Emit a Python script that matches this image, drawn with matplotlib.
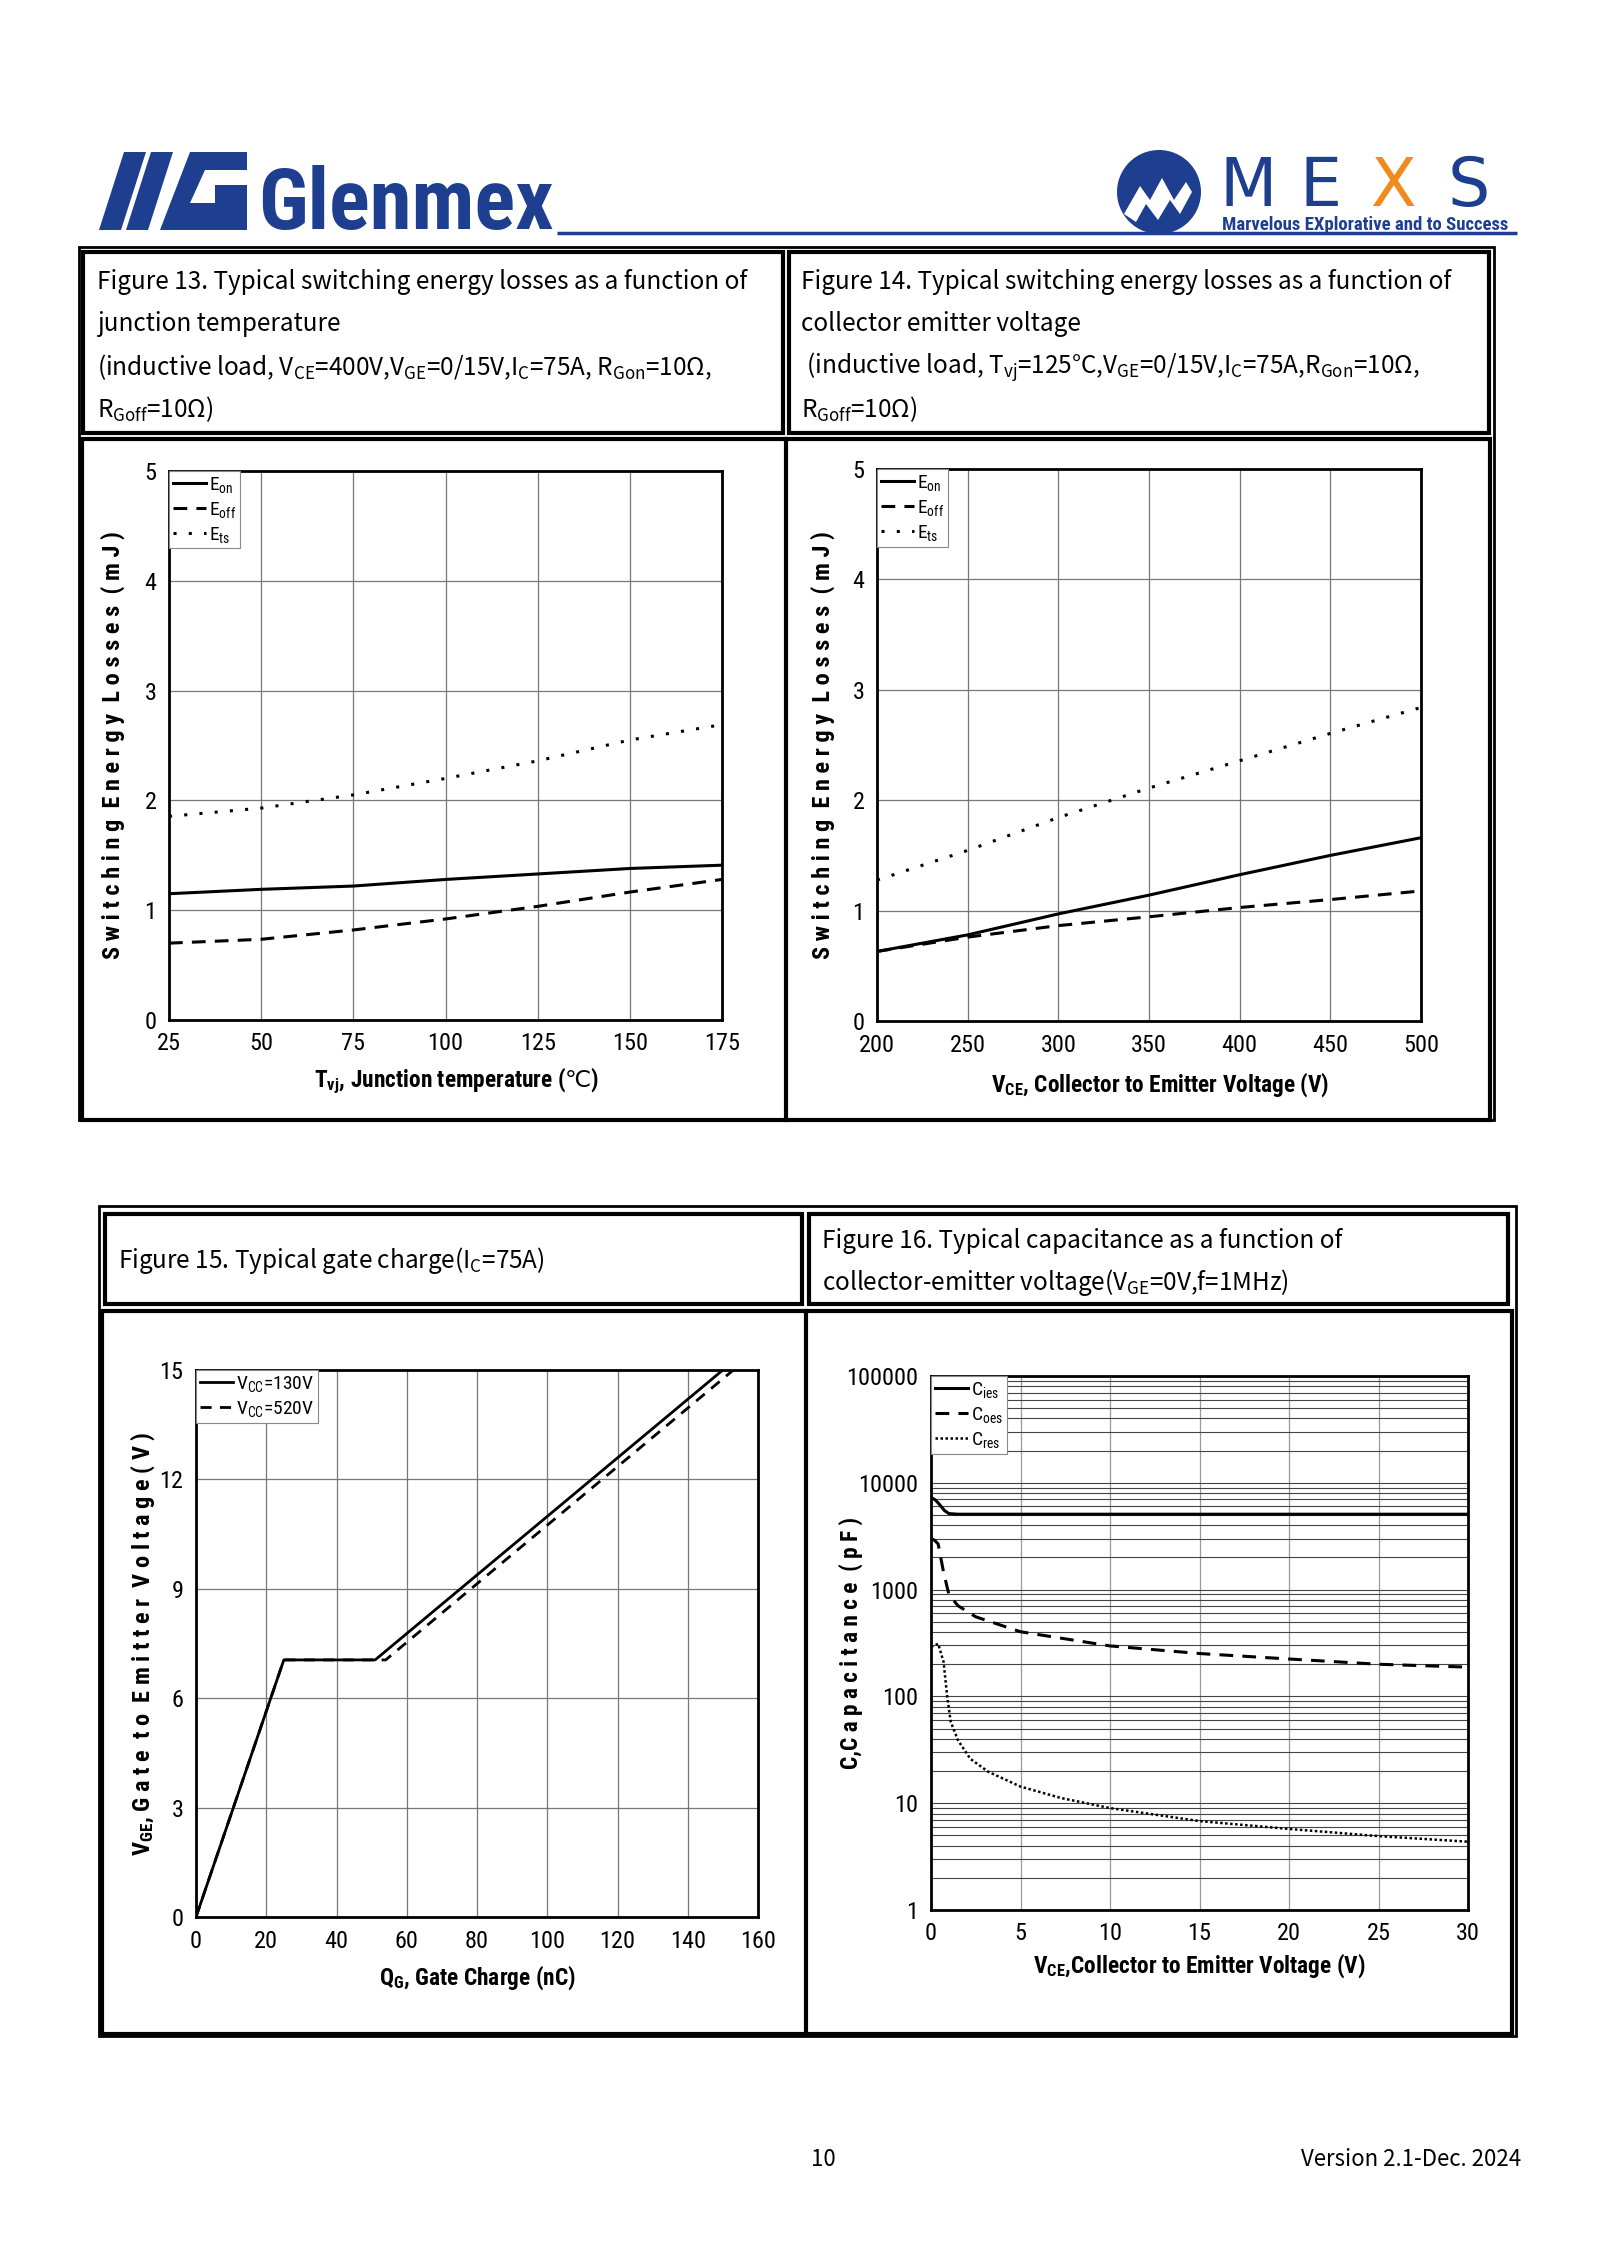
import matplotlib
matplotlib.use("Agg")
import matplotlib.pyplot as plt
from matplotlib.patches import Rectangle, Circle, Polygon
import numpy as np

# ---- data ----
# Figure 13: switching losses vs junction temperature
tvj = [25, 50, 75, 100, 125, 150, 175]
eon_t = [1.15, 1.19, 1.22, 1.28, 1.33, 1.38, 1.41]
eoff_t = [0.70, 0.735, 0.82, 0.92, 1.035, 1.165, 1.28]
ets_t = [1.855, 1.93, 2.05, 2.20, 2.36, 2.55, 2.69]

# Figure 14: switching losses vs collector emitter voltage
vce = [200, 250, 300, 350, 400, 450, 500]
eon_v = [0.63, 0.78, 0.97, 1.14, 1.325, 1.50, 1.66]
eoff_v = [0.63, 0.76, 0.864, 0.944, 1.028, 1.10, 1.178]
ets_v = [1.276, 1.545, 1.843, 2.11, 2.357, 2.605, 2.84]

# Figure 15: gate charge
qg_130 = [0, 25, 51, 150]
vge_130 = [0, 7.05, 7.05, 15]
qg_520 = [0, 25, 54, 153]
vge_520 = [0, 7.05, 7.05, 15]

# Figure 16: capacitance vs VCE
v_ies = [0, 0.25, 0.5, 0.75, 1.0, 1.5, 30]
c_ies = [7300, 6900, 6200, 5500, 5150, 5080, 5080]
v_oes = [0, 0.2, 0.4, 0.7, 1.0, 1.5, 2.5, 5, 10, 15, 20, 25, 30]
c_oes = [3000, 2900, 2670, 1460, 900, 708, 556, 403, 297, 252, 224, 200, 188]
v_res = [0, 0.2, 0.4, 0.7, 0.9, 1.1, 1.5, 2.2, 3.2, 5, 7.25, 10, 15, 20, 25, 30]
c_res = [292, 300, 311, 211, 102, 58, 39, 26, 19.7, 14.3, 11.2, 9.0, 6.8, 5.74, 4.92, 4.36]

W, H = 1600, 2262
NARROW = ['Liberation Sans Narrow', 'Roboto Condensed', 'Liberation Sans', 'DejaVu Sans']
CAP = ['Noto Sans CJK SC', 'DejaVu Sans']
BLUE = '#1e3f8f'

plt.rcParams['font.family'] = NARROW
plt.rcParams['mathtext.default'] = 'regular'

fig = plt.figure(figsize=(W / 100, H / 100), dpi=100)
fig.patch.set_facecolor('white')

# background axes in pixel coords for frames, logos and captions
bg = fig.add_axes([0, 0, 1, 1], zorder=-1)
bg.set_xlim(0, W)
bg.set_ylim(H, 0)
bg.axis('off')


def box(x0, y0, x1, y1, lw=3):
    bg.add_patch(Rectangle((x0, y0), x1 - x0, y1 - y0, fill=False, lw=lw, ec='black'))


def add_ax(x0, y0, x1, y1):
    return fig.add_axes([x0 / W, 1 - y1 / H, (x1 - x0) / W, (y1 - y0) / H])


# ---- header logos ----
# Glenmex mark (slanted bars)
for pts in ([(99, 230), (121, 230), (146, 152), (124, 152)],
            [(126, 230), (148, 230), (173, 152), (151, 152)],
            [(160, 230), (247, 230), (247, 185), (215, 185), (215, 203), (190, 203), (205, 170), (247, 170), (247, 152), (190, 152)]):
    bg.add_patch(Polygon(pts, closed=True, fc=BLUE, ec='none'))
bg.text(258, 229, 'Glenmex', fontsize=61, fontweight='bold', color=BLUE, family=NARROW, va='baseline', ha='left')
bg.plot([557, 1517], [233, 233], color=BLUE, lw=2.5, solid_capstyle='butt')

# MEXS mark
bg.add_patch(Circle((1159, 192), 42, fc=BLUE, ec='none'))
bg.add_patch(Polygon([(1124, 214), (1140, 186), (1150, 200), (1162, 178), (1174, 200), (1186, 182), (1192, 192),
                      (1180, 214), (1170, 200), (1158, 220), (1146, 204), (1136, 222)], closed=True, fc='white', ec='none'))
for ch, xx, col in (('M', 1220, BLUE), ('E', 1300, BLUE), ('X', 1370, '#f08a1c'), ('S', 1448, BLUE)):
    bg.text(xx, 206, ch, fontsize=48, color=col, family=['DejaVu Sans'], va='baseline', ha='left')
bg.text(1222, 225, 'Marvelous EXplorative and to Success', fontsize=13.5, fontweight='bold', color=BLUE,
        family=NARROW, va='center', ha='left')

# ---- table frames ----
box(79, 247, 1494, 1120, lw=2)
box(83, 252, 783, 433)
box(789, 252, 1489, 433)
box(82, 439, 1490, 1120)
bg.plot([786, 786], [439, 1120], color='black', lw=3)

box(99, 1206, 1516, 2036, lw=2)
box(105, 1214, 802, 1304)
box(809, 1214, 1508, 1304)
box(102, 1311, 1512, 2034)
bg.plot([806, 806], [1311, 2034], color='black', lw=3)

# ---- captions ----
tfs = 17.5
cap13 = ['Figure 13. Typical switching energy losses as a function of',
         'junction temperature',
         r'(inductive load, $V_{CE}$=400V,$V_{GE}$=0/15V,$I_{C}$=75A, $R_{Gon}$=10Ω,',
         r'$R_{Goff}$=10Ω)']
cap14 = ['Figure 14. Typical switching energy losses as a function of',
         'collector emitter voltage',
         r' (inductive load, $T_{vj}$=125°C,$V_{GE}$=0/15V,$I_{C}$=75A,$R_{Gon}$=10Ω,',
         r'$R_{Goff}$=10Ω)']
for i, (a, b) in enumerate(zip(cap13, cap14)):
    yy = 282 + i * 42.3
    bg.text(97, yy, a, fontsize=tfs, family=CAP, va='center', ha='left')
    bg.text(801, yy, b, fontsize=tfs, family=CAP, va='center', ha='left')
bg.text(118, 1261, r'Figure 15. Typical gate charge($I_{C}$=75A)', fontsize=tfs, family=CAP, va='center')
bg.text(822, 1241, 'Figure 16. Typical capacitance as a function of', fontsize=tfs, family=CAP, va='center')
bg.text(822, 1282, r'collector-emitter voltage($V_{GE}$=0V,f=1MHz)', fontsize=tfs, family=CAP, va='center')

# footer
bg.text(823, 2160, '10', fontsize=16, family=CAP, ha='center', va='center')
bg.text(1521, 2160, 'Version 2.1-Dec. 2024', fontsize=16, family=CAP, ha='right', va='center')


def style(ax):
    for s in ax.spines.values():
        s.set_linewidth(2)
    ax.tick_params(length=0, labelsize=17.5, pad=9)
    ax.grid(True, which='major', color='#777777', lw=0.9)
    ax.set_axisbelow(True)


def legend(ax, fs=14):
    lg = ax.legend(loc='upper left', borderaxespad=0, fancybox=False, framealpha=1, edgecolor='#888888',
                   fontsize=fs, handlelength=1.7, handletextpad=0.15, labelspacing=0.25, borderpad=0.2)
    lg.get_frame().set_linewidth(0.8)


def place_labels(ax, box_px, ylab_x, xlab_y, xlab_cx=0.5):
    # put label centres at given pixel positions
    x0, y0, x1, y1 = box_px
    ax.yaxis.label.set_va('center')
    ax.yaxis.label.set_ha('center')
    ax.xaxis.label.set_va('center')
    ax.yaxis.set_label_coords((ylab_x - x0) / (x1 - x0), 0.5)
    ax.xaxis.set_label_coords(xlab_cx, -(xlab_y - y1) / (y1 - y0))


ylab_kw = dict(fontsize=17.5, fontweight='bold')
xlab_kw = dict(fontsize=16.8, fontweight='bold')
spaced_esl = 'S w i t c h i n g  E n e r g y  L o s s e s  ( m J )'

# ---- Figure 13 ----
b13 = (169, 471, 722, 1020)
ax = add_ax(*b13)
ax.plot(tvj, eon_t, color='black', lw=2.2, label='$E_{on}$')
ax.plot(tvj, eoff_t, color='black', lw=2.2, ls=(0, (4.5, 3)), label='$E_{off}$')
ax.plot(tvj, ets_t, color='black', lw=2.2, ls=(0, (1, 4)), label='$E_{ts}$')
ax.set_xlim(25, 175)
ax.set_ylim(0, 5)
ax.set_xticks(np.arange(25, 176, 25))
ax.set_yticks(np.arange(0, 6, 1))
style(ax)
legend(ax)
ax.set_ylabel(spaced_esl, **ylab_kw)
ax.set_xlabel(r'$T_{vj}$, Junction temperature ($\mathrm{℃}$)', **xlab_kw)
place_labels(ax, b13, 113, 1081, 0.52)

# ---- Figure 14 ----
b14 = (877, 469, 1421, 1021)
ax = add_ax(*b14)
ax.plot(vce, eon_v, color='black', lw=2.2, label='$E_{on}$')
ax.plot(vce, eoff_v, color='black', lw=2.2, ls=(0, (4.5, 3)), label='$E_{off}$')
ax.plot(vce, ets_v, color='black', lw=2.2, ls=(0, (1, 4)), label='$E_{ts}$')
ax.set_xlim(200, 500)
ax.set_ylim(0, 5)
ax.set_xticks(np.arange(200, 501, 50))
ax.set_yticks(np.arange(0, 6, 1))
style(ax)
legend(ax)
ax.set_ylabel(spaced_esl, **ylab_kw)
ax.set_xlabel(r'$V_{CE}$, Collector to Emitter Voltage (V)', **xlab_kw)
place_labels(ax, b14, 823, 1085, 0.52)

# ---- Figure 15 ----
b15 = (196, 1370, 758, 1917)
ax = add_ax(*b15)
ax.plot(qg_130, vge_130, color='black', lw=2.0, label='$V_{CC}$=130V')
ax.plot(qg_520, vge_520, color='black', lw=2.0, ls=(0, (4, 3)), label='$V_{CC}$=520V')
ax.set_xlim(0, 160)
ax.set_ylim(0, 15)
ax.set_xticks(np.arange(0, 161, 20))
ax.set_yticks(np.arange(0, 16, 3))
style(ax)
legend(ax)
ax.set_ylabel(r'$V_{GE}$, G a t e  t o  E m i t t e r  V o l t a g e ( V )', **ylab_kw)
ax.set_xlabel(r'$Q_{G}$, Gate Charge (nC)', **xlab_kw)
place_labels(ax, b15, 143, 1978)

# ---- Figure 16 ----
b16 = (931, 1376, 1468, 1910)
ax = add_ax(*b16)
ax.plot(v_ies, c_ies, color='black', lw=2.2, label='$C_{ies}$')
ax.plot(v_oes, c_oes, color='black', lw=2.2, ls=(0, (4.5, 3)), label='$C_{oes}$')
ax.plot(v_res, c_res, color='black', lw=1.8, ls=(0, (1, 1)), label='$C_{res}$')
ax.set_yscale('log')
ax.set_xlim(0, 30)
ax.set_ylim(1, 100000)
ax.set_xticks(np.arange(0, 31, 5))
ax.set_yticks([1, 10, 100, 1000, 10000, 100000])
ax.set_yticklabels(['1', '10', '100', '1000', '10000', '100000'])
style(ax)
ax.tick_params(which='minor', length=0)
ax.grid(False)
ax.grid(True, axis='x', which='major', color='#999999', lw=0.9)
ax.grid(True, axis='y', which='both', color='#444444', lw=0.8)
legend(ax)
ax.set_ylabel('C,C a p a c i t a n c e  ( p F )', fontsize=16.8, fontweight='bold')
ax.set_xlabel(r'$V_{CE}$,Collector to Emitter Voltage (V)', **xlab_kw)
place_labels(ax, b16, 851, 1966)

fig.savefig('out.png', dpi=100)
